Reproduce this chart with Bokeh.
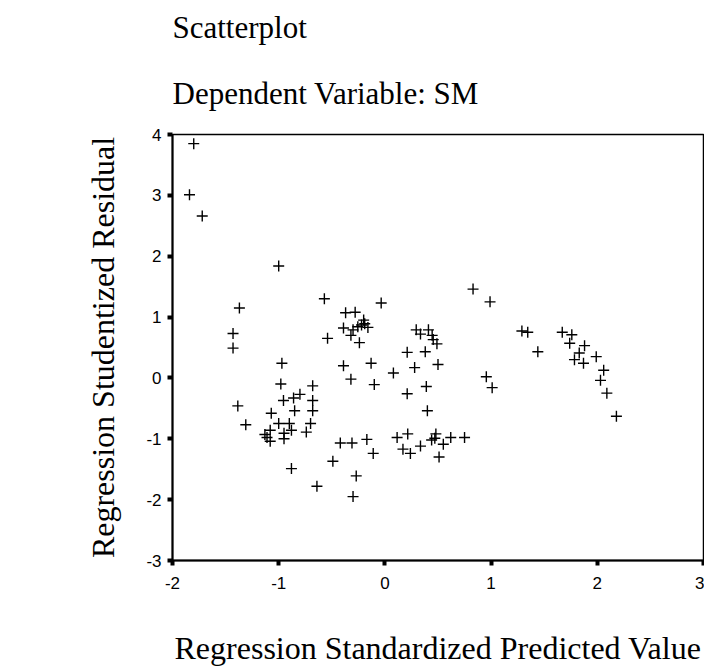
from bokeh.plotting import figure
from bokeh.models import Range1d, FixedTicker, Title
from bokeh.embed import file_html
from bokeh.resources import INLINE

# ---- data ----
pred_x = [-1.80, -1.84, -1.72, -1.00, -0.57, -1.37, -1.43, -1.43, -0.54, -0.97,
          -0.98, -0.68, -0.955, -0.86, -0.80, -0.68, -1.385, -0.85, -0.68, -1.07,
          -1.31, -1.00, -0.90, -0.70, -1.08, -0.88, -0.95, -0.74, -1.13, -1.11,
          -1.08, -0.95, -0.49, -0.88, -0.64, -0.035, -0.37, -0.28, -0.20, -0.19,
          -0.39, -0.30, -0.255, -0.22, -0.16, -0.32, -0.24, -0.39, -0.13, -0.32,
          -0.10, 0.08, 0.295, 0.335, 0.41, 0.445, 0.455, 0.49, 0.21, 0.38,
          0.28, 0.50, 0.39, 0.21, 0.40, 0.83, 0.99, 0.955, 1.01, -0.42,
          -0.31, -0.17, -0.11, -0.27, -0.30, 0.115, 0.215, 0.17, 0.24, 0.335,
          0.44, 0.48, 0.47, 0.55, 0.62, 0.75, 0.51, 1.29, 1.345, 1.44,
          1.67, 1.76, 1.74, 1.88, 1.83, 1.785, 1.87, 1.99, 2.06, 2.03,
          2.09, 2.18]
resid_y = [3.85, 3.01, 2.66, 1.84, 1.30, 1.15, 0.73, 0.49, 0.65, 0.24,
           -0.10, -0.13, -0.37, -0.33, -0.27, -0.37, -0.46, -0.54, -0.54, -0.58,
           -0.77, -0.75, -0.75, -0.75, -0.86, -0.86, -0.91, -0.89, -0.93, -0.98,
           -1.04, -1.00, -1.37, -1.49, -1.78, 1.23, 1.07, 1.08, 0.95, 0.89,
           0.82, 0.79, 0.84, 0.87, 0.83, 0.70, 0.58, 0.20, 0.24, -0.02,
           -0.11, 0.08, 0.79, 0.72, 0.79, 0.70, 0.63, 0.56, 0.42, 0.43,
           0.17, 0.22, -0.14, -0.26, -0.54, 1.46, 1.25, 0.02, -0.16, -1.07,
           -1.07, -1.01, -1.24, -1.61, -1.95, -0.98, -0.92, -1.17, -1.24, -1.12,
           -1.02, -0.92, -0.99, -1.09, -0.98, -0.98, -1.30, 0.77, 0.75, 0.43,
           0.75, 0.71, 0.57, 0.53, 0.41, 0.30, 0.24, 0.35, 0.125, -0.04,
           -0.25, -0.63]
x_ticks = [-2, -1, 0, 1, 2, 3]
y_ticks = [-3, -2, -1, 0, 1, 2, 3, 4]

SERIF = "Liberation Serif"
SANS = "Liberation Sans"

W, H = 704, 668
FL, FT, FR, FB = 172, 134, 703, 564   # frame edges in page pixels

p = figure(width=W, height=H, output_backend="svg", toolbar_location=None,
           x_range=Range1d(-2, 3), y_range=Range1d(-3, 4),
           min_border_left=FL, min_border_right=W - FR, min_border_top=FT,
           min_border_bottom=H - FB)

p.scatter(pred_x, resid_y, marker="cross", size=11, line_color="black",
          line_width=1.4)

p.xgrid.visible = False
p.ygrid.visible = False
p.outline_line_color = "black"
p.outline_line_width = 1.5
p.background_fill_color = "white"
p.border_fill_color = "white"

for ax, ticks in ((p.xaxis[0], x_ticks), (p.yaxis[0], y_ticks)):
    ax.ticker = FixedTicker(ticks=ticks)
    ax.major_label_overrides = {t: str(t) for t in ticks}
    ax.minor_tick_line_color = None
    ax.axis_line_width = 2
    ax.axis_line_color = "black"
    ax.major_tick_line_width = 4
    ax.major_tick_line_color = "black"
    ax.major_tick_in = 0
    ax.major_tick_out = 5
    ax.major_label_text_font = SANS
    ax.major_label_text_font_size = "17px"
    ax.major_label_text_color = "black"
    ax.axis_label_text_font = SERIF
    ax.axis_label_text_font_size = "32px"
    ax.axis_label_text_font_style = "normal"
    ax.axis_label_text_color = "black"

p.xaxis.major_label_standoff = 11
p.yaxis.major_label_standoff = 6
p.xaxis.axis_label = "Regression Standardized Predicted Value"
p.yaxis.axis_label = "Regression Studentized Residual"
p.xaxis.axis_label_standoff = 38
p.yaxis.axis_label_standoff = 22

sub = Title(text="Dependent Variable: SM", align="left", text_font=SERIF,
            text_font_size="31px", text_font_style="normal", text_color="black",
            standoff=48)
p.add_layout(sub, "above")
main = Title(text="Scatterplot", align="left", text_font=SERIF,
             text_font_size="31px", text_font_style="normal", text_color="black",
             standoff=9)
p.add_layout(main, "above")

open("out.html", "w").write(file_html(p, INLINE))
